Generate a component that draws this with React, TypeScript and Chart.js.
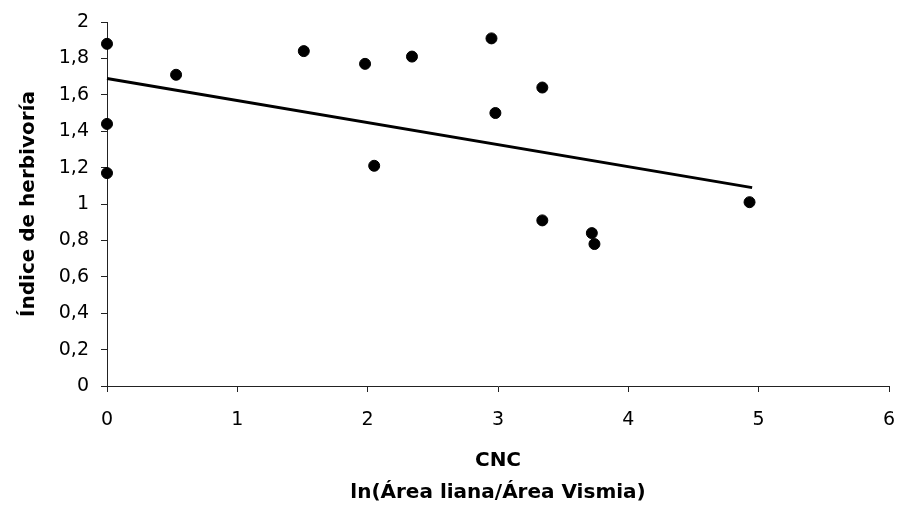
import React, { useEffect, useRef } from "react";
import { Chart, registerables } from "chart.js";

Chart.register(...registerables);

// CNC: ln(Área liana / Área Vismia)
const xValues = [0, 0, 0, 0.53, 1.51, 1.98, 2.05, 2.34, 2.95, 2.98, 3.34, 3.34, 3.72, 3.74, 4.93];
// Índice de herbivoría
const yValues = [1.88, 1.44, 1.17, 1.71, 1.84, 1.77, 1.21, 1.81, 1.91, 1.5, 1.64, 0.91, 0.84, 0.78, 1.01];
// Linear trend line endpoints
const trendX = [0, 4.95];
const trendY = [1.69, 1.09];

const xTickLabels = ["0", "1", "2", "3", "4", "5", "6"];
const yTickLabels = ["0", "0,2", "0,4", "0,6", "0,8", "1", "1,2", "1,4", "1,6", "1,8", "2"];

const xTitle = ["CNC", "ln(Área liana/Área Vismia)"];
const yTitle = "Índice de herbivoría";

const FONT = "'DejaVu Sans', Verdana, sans-serif";

export default function App() {
  const ref = useRef<HTMLCanvasElement | null>(null);

  useEffect(() => {
    if (!ref.current) return;
    const chart = new Chart(ref.current, {
      type: "scatter",
      data: {
        datasets: [
          {
            type: "scatter",
            data: xValues.map((x, i) => ({ x, y: yValues[i] })),
            backgroundColor: "#000",
            borderColor: "#000",
            pointRadius: 5.5,
            pointHoverRadius: 5.5,
            clip: false,
          } as any,
          {
            type: "line",
            data: trendX.map((x, i) => ({ x, y: trendY[i] })),
            borderColor: "#000",
            borderWidth: 3,
            pointRadius: 0,
            fill: false,
            clip: false,
          } as any,
        ],
      },
      options: {
        responsive: false,
        animation: false,
        layout: { padding: { top: 22, right: 11, left: 0, bottom: 0 } },
        plugins: { legend: { display: false }, tooltip: { enabled: false } },
        scales: {
          x: {
            type: "linear",
            min: 0,
            max: 6,
            afterFit: (s: any) => {
              s.height = 124;
              s.paddingRight = 0;
              s.paddingLeft = 0;
            },
            border: { display: true, color: "#222", width: 1 },
            grid: { drawOnChartArea: false, drawTicks: true, tickLength: 6, color: "#222" },
            ticks: {
              stepSize: 1,
              padding: 17,
              color: "#000",
              font: { family: FONT, size: 19 },
              callback: (v: any) => xTickLabels[Math.round(Number(v))] ?? "",
              maxRotation: 0,
            },
            title: {
              display: true,
              text: xTitle,
              color: "#000",
              font: { family: FONT, size: 20, weight: "bold", lineHeight: 1.6 },
              padding: { top: 0, bottom: 1 },
            },
          },
          y: {
            type: "linear",
            min: 0,
            max: 2,
            afterFit: (s: any) => {
              s.width = 107;
              s.paddingTop = 0;
              s.paddingBottom = 0;
            },
            border: { display: true, color: "#222", width: 1 },
            grid: { drawOnChartArea: false, drawTicks: true, tickLength: 6, color: "#222" },
            ticks: {
              stepSize: 0.2,
              padding: 12,
              color: "#000",
              font: { family: FONT, size: 19 },
              callback: (v: any) => yTickLabels[Math.round(Number(v) * 5)] ?? "",
            },
            title: {
              display: true,
              text: yTitle,
              color: "#000",
              font: { family: FONT, size: 20, weight: "bold", lineHeight: 1.2 },
              padding: { top: 17, bottom: 0 },
            },
          },
        },
      },
    });
    return () => chart.destroy();
  }, []);

  return (
    <div style={{ position: "absolute", left: 0, top: 0, width: 900, height: 510, background: "#fff" }}>
      <canvas ref={ref} width={900} height={510} />
    </div>
  );
}
